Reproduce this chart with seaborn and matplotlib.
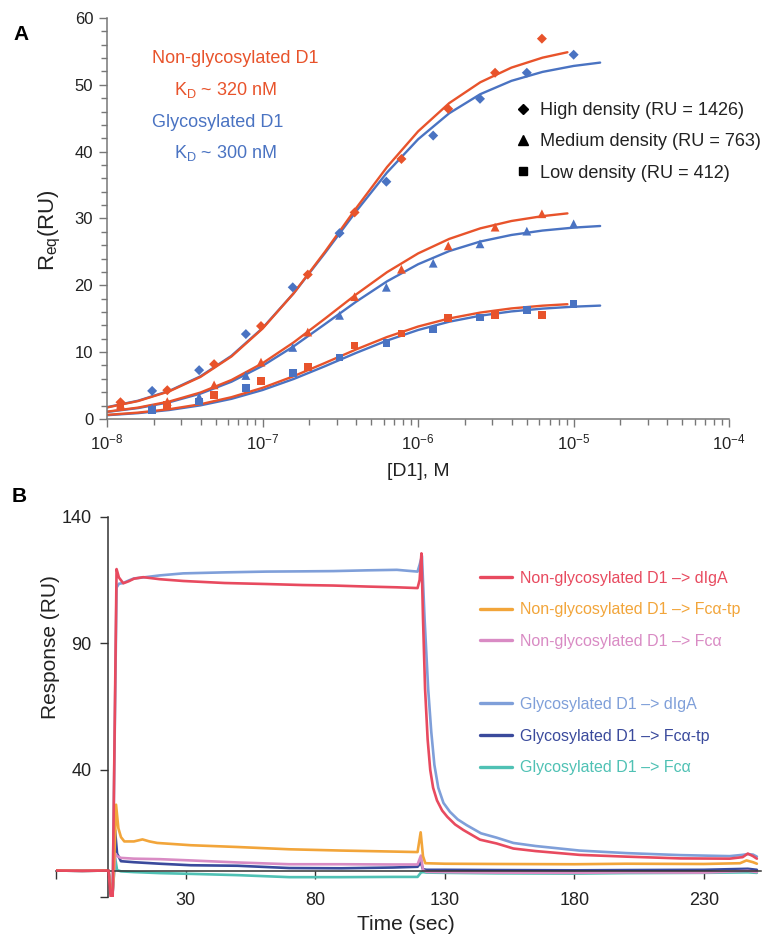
import numpy as np
import matplotlib
matplotlib.use("Agg")
import matplotlib.pyplot as plt
import seaborn as sns
from matplotlib.lines import Line2D
from matplotlib.ticker import MultipleLocator, LogLocator, FixedLocator, FixedFormatter

# ---------------- Panel A data (concentrations in nM) ----------------
conc_red = [12.2, 24.4, 48.8, 97.7, 195.3, 390.6, 781.3, 1562.5, 3125, 6250]
conc_blue = [19.5, 39.1, 78.1, 156.3, 312.5, 625, 1250, 2500, 5000, 10000]

red_high = [2.5, 4.3, 8.2, 13.9, 21.6, 30.9, 38.9, 46.4, 51.8, 56.9]
red_medium = [2.2, 2.6, 5.1, 8.5, 13.0, 18.3, 22.4, 25.9, 28.7, 30.7]
red_low = [1.7, 2.1, 3.6, 5.7, 7.8, 11.0, 12.8, 15.1, 15.6, 15.6]
blue_high = [4.2, 7.3, 12.7, 19.7, 27.8, 35.5, 42.4, 47.9, 51.8, 54.5]
blue_medium = [1.6, 3.3, 6.5, 10.7, 15.5, 19.7, 23.3, 26.2, 28.1, 29.2]
blue_low = [1.3, 2.6, 4.6, 6.9, 9.2, 11.4, 13.4, 15.2, 16.3, 17.2]

# fitted curves
fit_conc_red = [10, 15.85, 25.12, 39.81, 63.1, 100, 158.5, 251.2, 398.1, 631,
                1000, 1585, 2512, 3981, 6310, 9120]
fit_conc_blue = [10, 15.85, 25.12, 39.81, 63.1, 100, 158.5, 251.2, 398.1, 631,
                 1000, 1585, 2512, 3981, 6310, 10000, 14800]
fit_red_high = [1.72, 2.68, 4.13, 6.28, 9.35, 13.52, 18.81, 24.98, 31.49, 37.69,
                43.03, 47.26, 50.38, 52.57, 54.06, 54.87]
fit_blue_high = [1.76, 2.73, 4.20, 6.37, 9.45, 13.60, 18.81, 24.79, 31.02, 36.87,
                 41.85, 45.74, 48.60, 50.59, 51.93, 52.82, 53.32]
fit_red_medium = [1.09, 1.70, 2.61, 3.95, 5.83, 8.34, 11.46, 14.99, 18.61, 21.96,
                  24.77, 26.94, 28.52, 29.62, 30.35, 30.76]
fit_blue_medium = [1.05, 1.63, 2.50, 3.78, 5.57, 7.95, 10.87, 14.17, 17.52, 20.59,
                   23.15, 25.12, 26.55, 27.53, 28.19, 28.63, 28.87]
fit_red_low = [0.61, 0.95, 1.46, 2.20, 3.26, 4.66, 6.40, 8.37, 10.39, 12.26,
               13.83, 15.04, 15.92, 16.54, 16.95, 17.17]
fit_blue_low = [0.56, 0.87, 1.34, 2.03, 3.01, 4.33, 5.98, 7.88, 9.87, 11.73,
                13.31, 14.55, 15.45, 16.09, 16.51, 16.80, 16.96]

density_labels = ["High density (RU = 1426)", "Medium density (RU = 763)",
                  "Low density (RU = 412)"]

# ---------------- Panel B data (time s, response RU) ----------------
t_ng_diga = [-20, -10, 0, 0.2, 1.0, 1.8, 3.3, 4.2, 5.9, 8, 10, 13.6, 20, 29, 45, 61, 75, 87,
             100, 111.5, 119.5, 120.3, 121.0, 121.6, 122.4, 123.4, 124.4, 125.5, 127, 129,
             131, 134, 137.2, 143.6, 150, 156.5, 165, 182, 200, 221, 240, 245, 247, 249, 250.5]
r_ng_diga = [0.3, 0.2, 0.3, 0.3, -10, -10, 119.3, 116, 113.7, 114.5, 115.5, 116.1, 115.3,
             114.6, 113.8, 113.4, 113.0, 112.8, 112.4, 112.1, 111.8, 115, 125.5, 100, 72,
             52, 40, 33, 28, 24, 21.5, 18.5, 16.3, 12.5, 11, 9, 8, 6.5, 5.8, 5.1, 5.0, 5.6,
             7.0, 6.0, 5.0]

t_g_diga = [-20, -10, 0, 0.2, 1.0, 1.8, 3.3, 4.2, 5.9, 8, 10, 13.6, 20, 29, 45, 61, 75, 87,
            100, 111.5, 119.5, 120.3, 121.2, 122.2, 123.6, 124.8, 126, 127.5, 129.5, 132,
            135, 138.5, 144, 150, 156.5, 165, 182, 200, 221, 240, 245, 247, 249, 250.5]
r_g_diga = [0.3, 0.2, 0.3, 0.3, -9, -9, 112, 113.5, 113.8, 114.8, 115.6, 116, 116.8, 117.6,
            118, 118.3, 118.4, 118.5, 118.8, 119, 118.3, 121, 124.5, 100, 72, 55, 42, 33,
            27, 23.5, 20.5, 18.2, 15, 13.3, 11.2, 10, 8.2, 7.2, 6.4, 6.0, 6.5, 6.8, 6.6, 5.8]

t_ng_fctp = [-20, -10, 0, 0.2, 1.0, 1.8, 2.6, 3.1, 4.0, 5.0, 6.3, 10, 13.3, 16, 19, 32, 50,
             70, 90, 110, 119.5, 120.7, 121.6, 122.5, 130, 150, 180, 200, 230, 244, 246.5,
             249, 250.5]
r_ng_fctp = [0.3, 0.2, 0.3, 0.3, -8, -8, 10, 26.3, 17, 13.5, 11.8, 11.8, 12.6, 11.8, 11.2,
             10.3, 9.6, 8.7, 8.2, 7.8, 7.6, 15.4, 6, 3.2, 3.0, 2.9, 2.8, 3.0, 2.9, 3.2, 4.3,
             3.6, 3.0]

t_ng_fc = [-20, -10, 0, 0.2, 1.0, 1.8, 2.8, 3.5, 5, 10, 20, 32, 50, 70, 90, 110, 119.5,
           120.8, 121.6, 123, 130, 150, 180, 200, 230, 247, 250.5]
r_ng_fc = [0.3, 0.2, 0.3, 0.3, -8, -8, 7, 6, 5.3, 5.0, 4.8, 4.3, 3.5, 2.8, 2.8, 2.7, 2.7,
           6.2, 0.5, -0.2, -0.3, -0.5, -0.6, -0.4, -0.5, 0.2, -0.3]

t_g_fctp = [-20, -10, 0, 0.2, 1.0, 1.8, 2.7, 3.5, 5, 10, 20, 32, 50, 70, 90, 110, 119.5,
            120.8, 121.6, 123, 130, 150, 180, 200, 230, 247, 250.5]
r_g_fctp = [0.3, 0.2, 0.3, 0.3, -8, -8, 16.3, 7, 4.0, 3.6, 3.0, 2.4, 2.2, 1.3, 1.2, 1.5,
            1.8, 3.5, 0.8, 0.6, 0.6, 0.5, 0.4, 0.5, 0.6, 1.0, 0.6]

t_g_fc = [-20, -10, 0, 0.2, 1.0, 1.8, 2.8, 3.5, 5, 10, 20, 32, 50, 70, 90, 110, 119.5,
          120.8, 121.6, 123, 130, 150, 180, 200, 230, 247, 250.5]
r_g_fc = [0.3, 0.2, 0.3, 0.3, -8, -8, 5, 0.5, 0, -0.3, -0.7, -1.0, -1.5, -2.3, -2.3, -2.2,
          -2.2, -0.5, -0.3, -0.5, -0.6, -0.8, -0.9, -0.7, -0.6, -0.4, -0.6]

series_labels = ["Non-glycosylated D1 \u2013> dIgA", "Non-glycosylated D1 \u2013> Fc\u03b1-tp",
                 "Non-glycosylated D1 \u2013> Fc\u03b1", "Glycosylated D1 \u2013> dIgA",
                 "Glycosylated D1 \u2013> Fc\u03b1-tp", "Glycosylated D1 \u2013> Fc\u03b1"]

# ---------------- style ----------------
sns.set_theme(style="ticks")
plt.rcParams['font.family'] = ['Liberation Sans', 'DejaVu Sans']
plt.rcParams['mathtext.fontset'] = 'custom'
plt.rcParams['mathtext.rm'] = 'Liberation Sans'
plt.rcParams['mathtext.it'] = 'Liberation Sans:italic'
plt.rcParams['mathtext.bf'] = 'Liberation Sans:bold'
plt.rcParams['mathtext.default'] = 'regular'

RED_A = '#E8532B'
BLUE_A = '#4A73C2'
TXT = '#222222'

fig = plt.figure(figsize=(7.7, 9.4), dpi=100)
axA = fig.add_axes([0.139, 0.5543, 0.808, 0.4266])
axB = fig.add_axes([0.073, 0.0461, 0.915, 0.4043])

# ---------------- Panel A ----------------
to_M = lambda v: np.asarray(v, dtype=float) * 1e-9
for yv in (fit_blue_high, fit_blue_medium, fit_blue_low):
    sns.lineplot(x=to_M(fit_conc_blue), y=yv, color=BLUE_A, lw=1.7, ax=axA,
                 estimator=None, sort=False, zorder=2)
for yv in (fit_red_high, fit_red_medium, fit_red_low):
    sns.lineplot(x=to_M(fit_conc_red), y=yv, color=RED_A, lw=1.7, ax=axA,
                 estimator=None, sort=False, zorder=2)

markers = ['D', '^', 's']
sizes = [26, 40, 30]
for yv, m, s in zip((blue_high, blue_medium, blue_low), markers, sizes):
    sns.scatterplot(x=to_M(conc_blue), y=yv, marker=m, s=s, color=BLUE_A,
                    edgecolor='none', ax=axA, zorder=3)
for yv, m, s in zip((red_high, red_medium, red_low), markers, sizes):
    sns.scatterplot(x=to_M(conc_red), y=yv, marker=m, s=s, color=RED_A,
                    edgecolor='none', ax=axA, zorder=3)

axA.set_xscale('log')
axA.set_xlim(1e-8, 1e-4)
axA.set_ylim(0, 60)
axA.yaxis.set_major_locator(MultipleLocator(10))
axA.yaxis.set_minor_locator(MultipleLocator(2))
axA.xaxis.set_major_locator(LogLocator(base=10, numticks=10))
axA.xaxis.set_minor_locator(LogLocator(base=10, subs=np.arange(2, 10), numticks=20))
axA.tick_params(axis='both', which='major', length=6, width=1, color='#777777',
                labelsize=12, labelcolor=TXT)
axA.tick_params(axis='both', which='minor', length=4, width=1, color='#777777')
axA.tick_params(axis='y', pad=4)
axA.tick_params(axis='x', pad=4)
sns.despine(ax=axA)
for sp in ('left', 'bottom'):
    axA.spines[sp].set_color('#777777')
    axA.spines[sp].set_linewidth(1.1)

axA.set_xlabel('[D1], M', fontsize=14, color=TXT)
axA.xaxis.label.set_verticalalignment('center')
axA.xaxis.set_label_coords(0.5, -0.132)
axA.set_ylabel('R$_{\\mathregular{eq}}$(RU)', fontsize=16, color=TXT)
axA.yaxis.label.set_verticalalignment('center')
axA.yaxis.set_label_coords(-0.0916, 0.471)

axA.text(0.0718, 0.887, 'Non-glycosylated D1', transform=axA.transAxes,
         color=RED_A, fontsize=13, va='baseline', ha='left')
axA.text(0.1077, 0.808, 'K$_{\\mathregular{D}}$ ~ 320 nM', transform=axA.transAxes,
         color=RED_A, fontsize=13, va='baseline', ha='left')
axA.text(0.0718, 0.7274, 'Glycosylated D1', transform=axA.transAxes,
         color=BLUE_A, fontsize=13, va='baseline', ha='left')
axA.text(0.1077, 0.650, 'K$_{\\mathregular{D}}$ ~ 300 nM', transform=axA.transAxes,
         color=BLUE_A, fontsize=13, va='baseline', ha='left')

hA = [Line2D([], [], marker='D', color='black', ls='none', markersize=5),
      Line2D([], [], marker='^', color='black', ls='none', markersize=6.5),
      Line2D([], [], marker='s', color='black', ls='none', markersize=5.5)]
axA.legend(hA, density_labels, loc='upper left', bbox_to_anchor=(0.654, 0.790),
           frameon=False, fontsize=13.1, handlelength=1.0, handletextpad=0.42,
           labelspacing=0.78, borderpad=0, borderaxespad=0, labelcolor=TXT)

# ---------------- Panel B ----------------
colsB = ['#E84A5F', '#F2A53A', '#D98BC4', '#7F9FD9', '#3A4A9C', '#4FC1B4']
seriesB = [(t_ng_diga, r_ng_diga), (t_ng_fctp, r_ng_fctp), (t_ng_fc, r_ng_fc),
           (t_g_diga, r_g_diga), (t_g_fctp, r_g_fctp), (t_g_fc, r_g_fc)]
draw_order = [5, 4, 3, 2, 1, 0]
for i in draw_order:
    tt, rr = seriesB[i]
    sns.lineplot(x=tt, y=rr, color=colsB[i], lw=1.9, ax=axB, estimator=None,
                 sort=False, zorder=2 + (6 - i) * 0.1)

axB.set_xlim(-20, 252)
axB.set_ylim(-10, 140)
axB.spines['left'].set_position(('data', 0))
axB.spines['bottom'].set_position(('data', 0))
sns.despine(ax=axB)
for sp in ('left', 'bottom'):
    axB.spines[sp].set_color('#333333')
    axB.spines[sp].set_linewidth(1.1)
xt = [-20, 30, 80, 130, 180, 230]
yt = [-10, 40, 90, 140]
axB.xaxis.set_major_locator(FixedLocator(xt))
axB.xaxis.set_major_formatter(FixedFormatter([''] + [str(v) for v in xt[1:]]))
axB.yaxis.set_major_locator(FixedLocator(yt))
axB.yaxis.set_major_formatter(FixedFormatter([''] + [str(v) for v in yt[1:]]))
axB.tick_params(axis='both', which='major', length=6, width=1, color='#333333',
                labelsize=13, labelcolor=TXT)
axB.tick_params(axis='x', pad=9)
axB.tick_params(axis='y', pad=6)

axB.set_xlabel('Time (sec)', fontsize=15, color=TXT)
axB.xaxis.label.set_verticalalignment('center')
axB.xaxis.set_label_coords(0.4965, -0.0745)
axB.set_ylabel('Response (RU)', fontsize=15, color=TXT)
axB.yaxis.label.set_verticalalignment('center')
axB.yaxis.set_label_coords(-0.0074, 0.658)

hB = [Line2D([], [], color=c, lw=2.4) for c in colsB[:3]]
hB.append(Line2D([], [], color='none', lw=2.4))
hB += [Line2D([], [], color=c, lw=2.4) for c in colsB[3:]]
lB = series_labels[:3] + [' '] + series_labels[3:]
lcB = colsB[:3] + ['white'] + colsB[3:]
axB.legend(hB, lB, loc='upper left', bbox_to_anchor=(0.6016, 0.858), frameon=False,
           fontsize=11.5, handlelength=2.0, handletextpad=0.5, labelspacing=1.04,
           borderpad=0, borderaxespad=0, labelcolor=lcB)

fig.text(0.0169, 0.9574, 'A', fontsize=15, fontweight='bold', color='black')
fig.text(0.0156, 0.466, 'B', fontsize=15, fontweight='bold', color='black')

fig.savefig('out.png', dpi=100)
